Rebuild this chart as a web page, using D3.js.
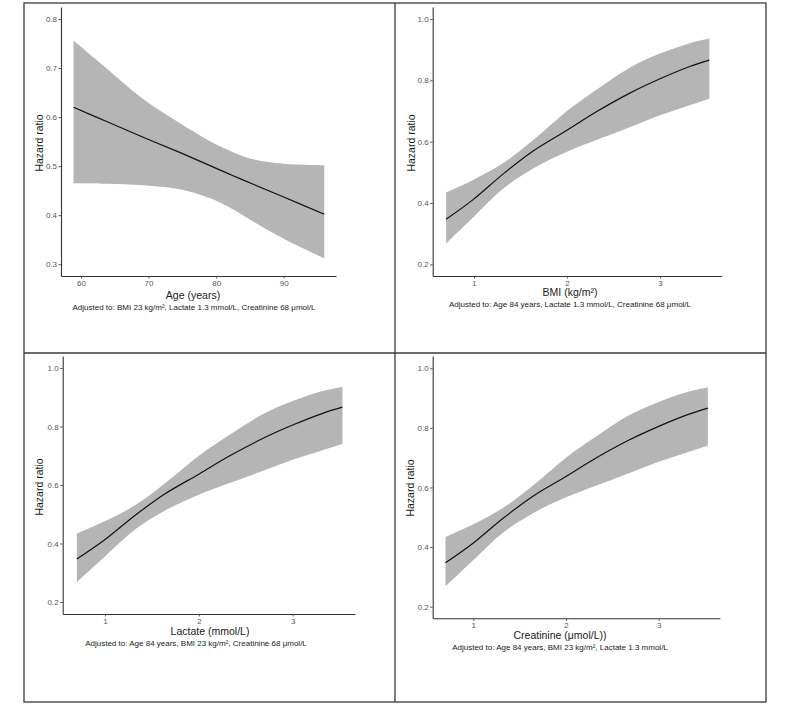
<!DOCTYPE html>
<html>
<head>
<meta charset="utf-8">
<script src="https://cdn.jsdelivr.net/npm/d3@7"></script>
<style>
  html, body { margin: 0; padding: 0; background: #fff; }
  svg { display: block; font-family: "Liberation Sans", Arial, Helvetica, sans-serif; }
</style>
</head>
<body>
<svg id="chart" width="800" height="707"></svg>
<script>
// ---------------- DATA ----------------
const ageX     = [58.9, 63.8, 69.2, 74.6, 79.6, 82.6, 85.5, 90.0, 96.0];
const ageFit   = [0.620, 0.591, 0.559, 0.528, 0.498, 0.480, 0.463, 0.437, 0.402];
const ageUpper = [0.756, 0.699, 0.637, 0.588, 0.547, 0.528, 0.514, 0.505, 0.502];
const ageLower = [0.465, 0.464, 0.461, 0.453, 0.432, 0.411, 0.387, 0.352, 0.312];

const bmiX     = [0.70, 0.99, 1.315, 1.64, 2.00, 2.32, 2.68, 3.00, 3.32, 3.53];
const bmiFit   = [0.347, 0.411, 0.495, 0.570, 0.637, 0.698, 0.759, 0.805, 0.845, 0.866];
const bmiUpper = [0.434, 0.475, 0.530, 0.606, 0.700, 0.770, 0.842, 0.887, 0.921, 0.936];
const bmiLower = [0.268, 0.353, 0.447, 0.513, 0.567, 0.606, 0.648, 0.686, 0.719, 0.740];

const lacX     = [0.70, 0.99, 1.315, 1.64, 2.00, 2.32, 2.68, 3.00, 3.32, 3.53];
const lacFit   = [0.347, 0.411, 0.495, 0.570, 0.637, 0.698, 0.759, 0.805, 0.845, 0.866];
const lacUpper = [0.434, 0.475, 0.530, 0.606, 0.700, 0.770, 0.842, 0.887, 0.921, 0.936];
const lacLower = [0.268, 0.353, 0.447, 0.513, 0.567, 0.606, 0.648, 0.686, 0.719, 0.740];

const creX     = [0.70, 0.99, 1.315, 1.64, 2.00, 2.32, 2.68, 3.00, 3.32, 3.53];
const creFit   = [0.347, 0.411, 0.495, 0.570, 0.637, 0.698, 0.759, 0.805, 0.845, 0.866];
const creUpper = [0.434, 0.475, 0.530, 0.606, 0.700, 0.770, 0.842, 0.887, 0.921, 0.936];
const creLower = [0.268, 0.353, 0.447, 0.513, 0.567, 0.606, 0.648, 0.686, 0.719, 0.740];

const ageTicks = [60, 70, 80, 90];
const ageYTicks = [0.3, 0.4, 0.5, 0.6, 0.7, 0.8];
const unitTicks = [1, 2, 3];
const hrTicks = [0.2, 0.4, 0.6, 0.8, 1.0];

const yTitle = "Hazard ratio";
const xTitles = ["Age (years)", "BMI (kg/m²)", "Lactate (mmol/L)", "Creatinine (μmol/L))"];
const captions = [
  "Adjusted to: BMI 23 kg/m², Lactate 1.3 mmol/L, Creatinine 68 μmol/L",
  "Adjusted to: Age 84 years, Lactate 1.3 mmol/L, Creatinine 68 μmol/L",
  "Adjusted to: Age 84 years, BMI 23 kg/m², Creatinine 68 μmol/L",
  "Adjusted to: Age 84 years, BMI 23 kg/m², Lactate 1.3 mmol/L"
];

// ---------------- LAYOUT ----------------
const panels = [
  { x: ageX, fit: ageFit, lo: ageLower, hi: ageUpper, xTicks: ageTicks, yTicks: ageYTicks,
    xDom: [57.04, 97.74], yDom: [0.276, 0.8245], box: [61, 336, 7, 276],
    title: xTitles[0], cap: captions[0], tx: 193, ty: 296, cx: 194, cy: 308, yx: 40, yy: 143 },
  { x: bmiX, fit: bmiFit, lo: bmiLower, hi: bmiUpper, xTicks: unitTicks, yTicks: hrTicks,
    xDom: [0.556, 3.663], yDom: [0.162, 1.039], box: [432.7, 721.7, 7, 276],
    title: xTitles[1], cap: captions[1], tx: 570, ty: 293.5, cx: 570, cy: 304.5, yx: 412, yy: 143 },
  { x: lacX, fit: lacFit, lo: lacLower, hi: lacUpper, xTicks: unitTicks, yTicks: hrTicks,
    xDom: [0.549, 3.664], yDom: [0.159, 1.041], box: [62.7, 355, 356, 614],
    title: xTitles[2], cap: captions[2], tx: 210, ty: 632, cx: 196, cy: 644, yx: 40, yy: 487 },
  { x: creX, fit: creFit, lo: creLower, hi: creUpper, xTicks: unitTicks, yTicks: hrTicks,
    xDom: [0.562, 3.661], yDom: [0.161, 1.041], box: [432.7, 720, 356, 618.3],
    title: xTitles[3], cap: captions[3], tx: 560, ty: 636, cx: 560, cy: 648, yx: 411, yy: 488 }
];

const svg = d3.select("#chart");

// panel frames
const frame = svg.append("g").attr("fill", "none").attr("stroke", "#3a3a3a").attr("stroke-width", 1.3);
frame.append("rect").attr("x", 24).attr("y", 3).attr("width", 742).attr("height", 699);
frame.append("line").attr("x1", 395).attr("x2", 395).attr("y1", 3).attr("y2", 702);
frame.append("line").attr("x1", 24).attr("x2", 766).attr("y1", 353).attr("y2", 353);

const curve = d3.curveCatmullRom.alpha(0.5);

panels.forEach(p => {
  const [l, r, t, b] = p.box;
  const xs = d3.scaleLinear().domain(p.xDom).range([l, r]);
  const ys = d3.scaleLinear().domain(p.yDom).range([b, t]);
  const g = svg.append("g");
  const pts = p.x.map((v, i) => ({ x: v, f: p.fit[i], lo: p.lo[i], hi: p.hi[i] }));

  g.append("path").datum(pts)
    .attr("fill", "#b5b5b5")
    .attr("d", d3.area().curve(curve)
      .x(d => xs(d.x)).y0(d => ys(d.lo)).y1(d => ys(d.hi)));

  g.append("path").datum(pts)
    .attr("fill", "none").attr("stroke", "#111").attr("stroke-width", 1.2)
    .attr("d", d3.line().curve(curve).x(d => xs(d.x)).y(d => ys(d.f)));

  const xa = g.append("g").attr("transform", `translate(0,${b})`)
    .call(d3.axisBottom(xs).tickValues(p.xTicks).tickFormat(d3.format("d")).tickSizeOuter(0).tickSizeInner(2.5).tickPadding(1.5));
  const ya = g.append("g").attr("transform", `translate(${l},0)`)
    .call(d3.axisLeft(ys).tickValues(p.yTicks).tickFormat(d3.format(".1f")).tickSizeOuter(0).tickSizeInner(2.5).tickPadding(1.5));
  [xa, ya].forEach(a => {
    a.select(".domain").attr("stroke", "#333").attr("stroke-width", 1.1);
    a.selectAll(".tick line").attr("stroke", "#555");
    a.selectAll(".tick text").attr("fill", "#555").style("font-size", "8px");
  });

  g.append("text").attr("x", p.tx).attr("y", p.ty).attr("text-anchor", "middle")
    .attr("dominant-baseline", "middle").attr("fill", "#1a1a1a").style("font-size", "10.5px").text(p.title);
  g.append("text").attr("x", p.cx).attr("y", p.cy).attr("text-anchor", "middle")
    .attr("dominant-baseline", "middle").attr("fill", "#1a1a1a").style("font-size", "8px").text(p.cap);
  g.append("text").attr("transform", `translate(${p.yx},${p.yy}) rotate(-90)`)
    .attr("text-anchor", "middle").attr("dominant-baseline", "middle")
    .attr("fill", "#1a1a1a").style("font-size", "10.5px").text(yTitle);
});
</script>
</body>
</html>
